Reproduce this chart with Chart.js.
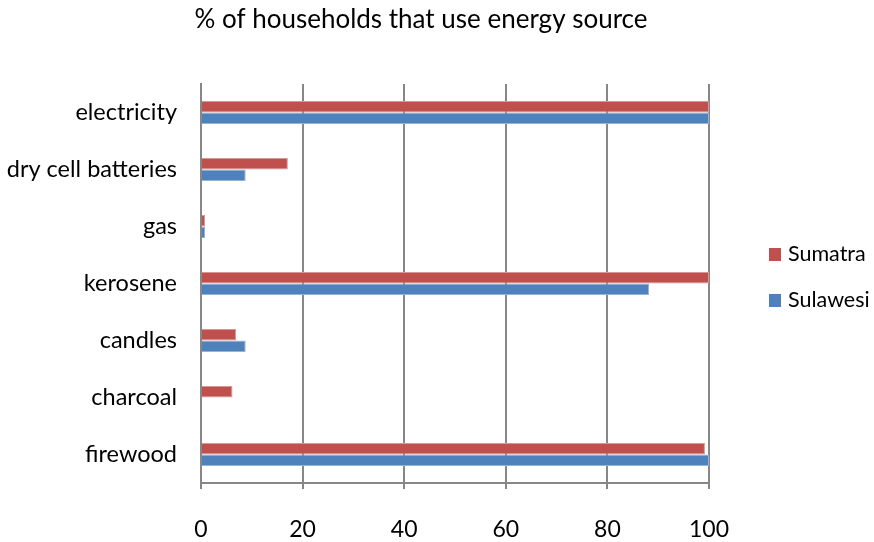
<!DOCTYPE html>
<html>
<head>
<meta charset="utf-8">
<script src="https://cdn.jsdelivr.net/npm/chart.js@4/dist/chart.umd.min.js"></script>
<style>
  html, body { margin: 0; padding: 0; background: #ffffff; }
  #wrap { width: 874px; height: 542px; }
</style>
</head>
<body>
<div id="wrap"><canvas id="c" width="874" height="542"></canvas></div>
<script>
// Energy sources, listed top to bottom
const categories = ['electricity', 'dry cell batteries', 'gas', 'kerosene', 'candles', 'charcoal', 'firewood'];
// Share of households (%) using each source
const sumatra  = [100, 17.1, 0.8, 100, 6.9, 6.2, 99.2];
const sulawesi = [100, 8.8, 0.8, 88.2, 8.8, 0, 100];
const xTicks = [0, 20, 40, 60, 80, 100];
const titleText = '% of households that use energy source';

const FONT = 'Lato, "Liberation Sans", sans-serif';
const GRID = '#878787';

const series = [
  { label: 'Sumatra', data: sumatra, color: '#C0504D', edge: '#D99694' },
  { label: 'Sulawesi', data: sulawesi, color: '#4F81BD', edge: '#95B3D7' }
];

// Title and legend painted onto the canvas
const decorations = {
  id: 'decorations',
  afterDraw(chart) {
    const ctx = chart.ctx;
    ctx.save();
    ctx.fillStyle = '#000';
    ctx.font = '26px ' + FONT;
    ctx.textAlign = 'center';
    ctx.textBaseline = 'middle';
    ctx.fillText(titleText, 421, 20);

    ctx.font = '21.5px ' + FONT;
    ctx.textAlign = 'left';
    series.forEach((s, i) => {
      const y = 254 + i * 46;
      ctx.fillStyle = s.color;
      ctx.fillRect(769, y - 6, 12, 13);
      ctx.fillStyle = '#000';
      ctx.fillText(s.label, 788, y);
    });
    ctx.restore();
  }
};

new Chart(document.getElementById('c'), {
  type: 'bar',
  data: {
    labels: categories,
    datasets: series.map(s => ({
      label: s.label,
      data: s.data,
      backgroundColor: s.color,
      borderColor: s.edge,
      borderWidth: 1,
      barPercentage: 1.0,
      categoryPercentage: 0.4
    }))
  },
  options: {
    indexAxis: 'y',
    responsive: false,
    animation: false,
    layout: { padding: { top: 84, right: 165, left: 0, bottom: 0 } },
    plugins: {
      legend: { display: false },
      title: { display: false },
      tooltip: { enabled: false }
    },
    scales: {
      x: {
        min: 0,
        max: 100,
        afterBuildTicks(scale) { scale.ticks = xTicks.map(v => ({ value: v })); },
        afterFit(scale) { scale.height = 59; },
        grid: { color: GRID, lineWidth: 2, tickLength: 6, drawTicks: true },
        border: { display: true, color: GRID, width: 2 },
        ticks: { color: '#000', font: { family: FONT, size: 23 }, padding: 27 }
      },
      y: {
        afterFit(scale) { scale.width = 201; },
        grid: { display: false },
        border: { display: true, color: GRID, width: 2 },
        ticks: { color: '#000', font: { family: FONT, size: 23.5 }, padding: 16 }
      }
    }
  },
  plugins: [decorations]
});
</script>
</body>
</html>
